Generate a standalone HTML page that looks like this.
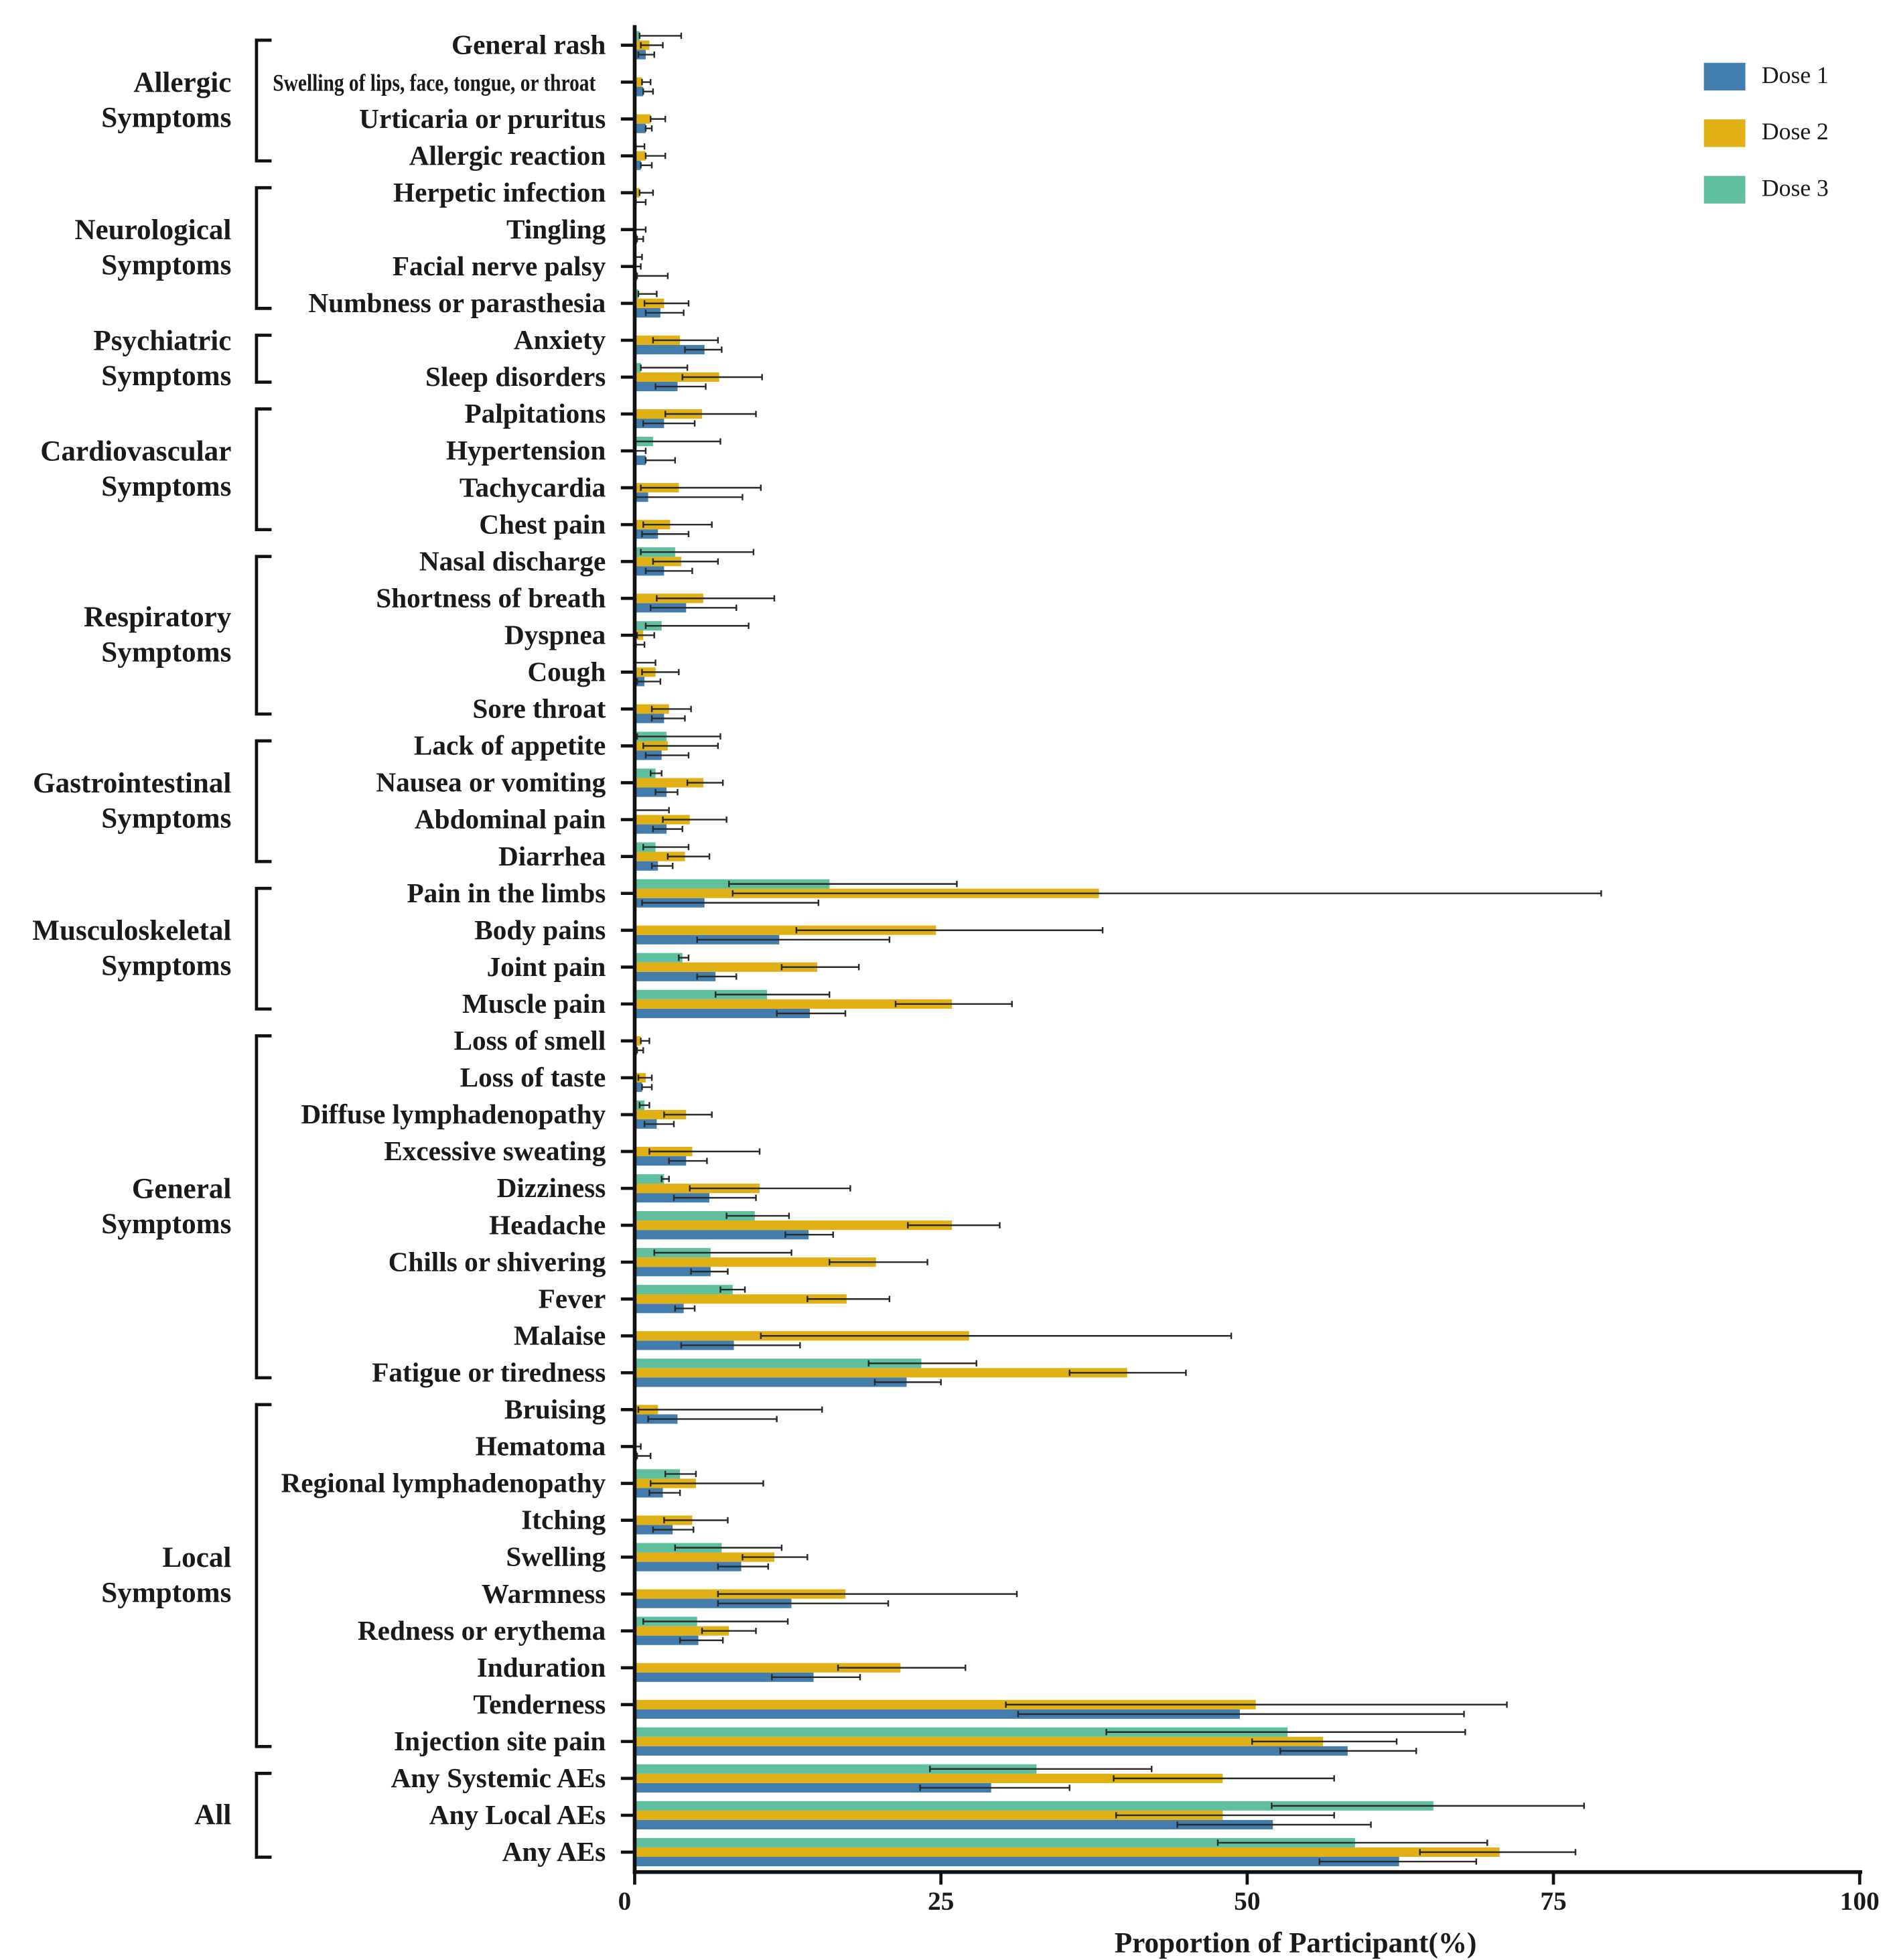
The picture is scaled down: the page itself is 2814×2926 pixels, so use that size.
<!DOCTYPE html>
<html><head><meta charset="utf-8"><style>
html,body{margin:0;padding:0;background:#fff}
svg{display:block}
text{font-family:"Liberation Serif","DejaVu Serif",serif;fill:#1a1a1a}
</style></head><body>
<svg id="chart" width="2814" height="2926" viewBox="0 0 1500 1560" xmlns="http://www.w3.org/2000/svg"></svg>
<script>
const categories=["General rash","Swelling of lips, face, tongue, or throat","Urticaria or pruritus","Allergic reaction","Herpetic infection","Tingling","Facial nerve palsy","Numbness or parasthesia","Anxiety","Sleep disorders","Palpitations","Hypertension","Tachycardia","Chest pain","Nasal discharge","Shortness of breath","Dyspnea","Cough","Sore throat","Lack of appetite","Nausea or vomiting","Abdominal pain","Diarrhea","Pain in the limbs","Body pains","Joint pain","Muscle pain","Loss of smell","Loss of taste","Diffuse lymphadenopathy","Excessive sweating","Dizziness","Headache","Chills or shivering","Fever","Malaise","Fatigue or tiredness","Bruising","Hematoma","Regional lymphadenopathy","Itching","Swelling","Warmness","Redness or erythema","Induration","Tenderness","Injection site pain","Any Systemic AEs","Any Local AEs","Any AEs"];
const dose1=[0.9,0.7,0.9,0.5,0.1,0.2,0.2,2.1,5.7,3.5,2.4,0.9,1.1,1.9,2.4,4.2,0.1,0.8,2.4,2.2,2.6,2.6,1.9,5.7,11.8,6.6,14.3,0.2,0.6,1.8,4.2,6.1,14.2,6.2,4.0,8.1,22.2,3.5,0.2,2.3,3.1,8.7,12.8,5.2,14.6,49.4,58.2,29.1,52.1,62.4];
const dose1Lo=[0.3,0.7,0.9,0.5,0.1,0.2,0.2,0.9,4.1,1.7,0.7,0.9,0.1,0.6,0.9,1.3,0.1,0.2,1.4,0.9,1.7,1.5,1.4,0.6,5.1,5.1,11.6,0.2,0.6,0.8,2.8,3.2,12.3,4.6,3.3,3.8,19.6,1.1,0.2,1.2,1.5,6.8,6.8,3.7,11.2,31.3,52.7,23.3,44.3,55.9];
const dose1Hi=[1.6,1.5,1.4,1.4,0.9,0.7,2.7,4.0,7.1,5.8,4.9,3.3,8.8,4.4,4.7,8.3,0.8,2.1,4.1,4.4,3.5,3.9,3.1,15.0,20.8,8.3,17.2,0.7,1.4,3.2,5.9,9.9,16.2,7.6,4.9,13.5,25.0,11.6,1.3,3.7,4.8,10.9,20.7,7.2,18.4,67.7,63.8,35.5,60.1,68.7];
const dose2=[1.2,0.6,1.3,0.9,0.4,0,0,2.4,3.7,6.9,5.5,0,3.6,2.9,3.8,5.6,0.7,1.7,2.8,2.7,5.6,4.5,4.1,37.9,24.6,14.9,25.9,0.5,0.9,4.2,4.7,10.2,25.9,19.7,17.3,27.3,40.2,1.9,0,5.0,4.7,11.4,17.2,7.7,21.7,50.7,56.2,48.0,48.0,70.6];
const dose2Lo=[0.5,0.6,1.3,0.9,0.4,0,0,0.8,1.5,3.9,2.5,0,0.5,0.7,1.5,1.8,0.2,0.6,1.4,0.7,4.3,2.3,2.7,8.0,13.2,12.0,21.3,0.5,0.3,2.4,1.2,4.5,22.3,15.9,14.1,10.3,35.5,0.3,0,1.3,2.4,8.8,6.8,5.5,16.6,30.3,50.4,39.1,39.3,64.1];
const dose2Hi=[2.3,1.3,2.5,2.5,1.5,0.9,0.5,4.4,6.8,10.4,9.9,0.9,10.3,6.3,6.8,11.4,1.6,3.6,4.6,6.8,7.2,7.5,6.1,78.9,38.2,18.3,30.8,1.2,1.4,6.3,10.2,17.6,29.8,23.9,20.8,48.7,45.0,15.3,0.5,10.5,7.6,14.1,31.2,9.9,27.0,71.2,62.2,57.1,57.1,76.8];
const dose3=[0.4,0,0,0.1,0,0,0,0.3,0,0.5,0,1.5,0,0,3.3,0,2.2,0,0,2.6,1.7,0,1.7,15.9,0,3.9,10.8,0,0,0.8,0,2.4,9.8,6.2,8.0,0,23.4,0,0,3.7,0,7.1,0,5.1,0,0,53.3,32.8,65.2,58.8];
const dose3Lo=[0.4,0,0,0.1,0,0,0,0.3,0,0.5,0,0,0,0,0.5,0,0.9,0,0,0.2,1.3,0,0.7,7.7,0,3.6,6.6,0,0,0.4,0,2.2,7.5,1.6,7.0,0,19.1,0,0,2.5,0,3.3,0,0.7,0,0,38.5,24.1,52.0,47.6];
const dose3Hi=[3.8,0,0,0.8,0,0,0.6,1.8,0,4.3,0,7.0,0,0,9.7,0,9.3,1.7,0,7.0,2.2,2.8,4.4,26.3,0,4.4,15.9,0,0,1.2,0,2.8,12.6,12.8,9.0,0,27.9,0,0,5.0,0,12.0,0,12.5,0,0,67.8,42.2,77.5,69.6];
const xTicks=[0,25,50,75,100];
const groupNames=[["Allergic","Symptoms"],["Neurological","Symptoms"],["Psychiatric","Symptoms"],["Cardiovascular","Symptoms"],["Respiratory","Symptoms"],["Gastrointestinal","Symptoms"],["Musculoskeletal","Symptoms"],["General","Symptoms"],["Local","Symptoms"],["All"]];
const groupStart=[0,4,8,10,14,19,23,27,37,47];
const groupEnd=[3,7,9,13,18,22,26,36,46,49];
const seriesNames=["Dose 1","Dose 2","Dose 3"];

const NS="http://www.w3.org/2000/svg";
const svg=document.getElementById('chart');
const X0=505,X1=1480,Y0=36,STEP=29.35,BH=7.5,AXY=1490;
function xs(v){return X0+(X1-X0)*v/100;}
function ys(i){return Y0+i*STEP;}
function mk(tag,attrs,parent){const e=document.createElementNS(NS,tag);for(const k in attrs)e.setAttribute(k,attrs[k]);(parent||svg).appendChild(e);return e;}
const colors=["#437dae","#e0b015","#5fbf9f"];
const vals=[dose1,dose2,dose3],los=[dose1Lo,dose2Lo,dose3Lo],his=[dose1Hi,dose2Hi,dose3Hi];
const offs=[BH,0,-BH];

const gBars=mk('g',{});


categories.forEach((c,i)=>{
  const y=ys(i);
  for(let s=0;s<3;s++){
    const v=vals[s][i];
    const cy=y+offs[s];
    if(v>0){
      const r=mk('rect',{x:xs(0),y:cy-BH/2,width:xs(v)-xs(0),height:BH,fill:colors[s]},gBars);
      
      
    }
    const lo=los[s][i],hi=his[s][i];
    if(hi>lo){
      const g=mk('g',{stroke:'#2a2a2a','stroke-width':1.3},gBars);
      
      
      mk('line',{x1:xs(lo),x2:xs(hi),y1:cy,y2:cy},g);
      mk('line',{x1:xs(lo),x2:xs(lo),y1:cy-2.5,y2:cy+2.5},g);
      mk('line',{x1:xs(hi),x2:xs(hi),y1:cy-2.5,y2:cy+2.5},g);
    }
  }
  const tk=mk('line',{x1:494,x2:505,y1:y,y2:y,stroke:'#111','stroke-width':2.5});
  
  
  const t=mk('text',{x:482,y:y+7,'text-anchor':'end','font-size':22,'font-weight':'bold'});
  t.textContent=c;
  if(i===1){t.setAttribute('x',474);t.setAttribute('font-size',19);t.setAttribute('textLength',257);t.setAttribute('lengthAdjust','spacingAndGlyphs');}
  
  
});

const ax=mk('line',{x1:X0,x2:X0,y1:20,y2:AXY+1.5,stroke:'#111','stroke-width':3});


const axx=mk('line',{x1:X0-1.5,x2:X1+2,y1:AXY,y2:AXY,stroke:'#111','stroke-width':3});


xTicks.forEach(v=>{
  const l=mk('line',{x1:xs(v),x2:xs(v),y1:AXY,y2:AXY+10,stroke:'#111','stroke-width':2.5});
  
  
  const t=mk('text',{x:xs(v)-(v===0?8:0),y:AXY+30,'text-anchor':'middle','font-size':21,'font-weight':'bold'});
  t.textContent=v;
  
  
});
const xt=mk('text',{x:1031,y:1554,'text-anchor':'middle','font-size':23,'font-weight':'bold'});
xt.textContent="Proportion of Participant(%)";



groupNames.forEach((lines,k)=>{
  const ya=ys(groupStart[k])-4,yb=ys(groupEnd[k])+4;
  const p=mk('path',{d:`M216 ${ya} H204 V${yb} H216`,fill:'none',stroke:'#111','stroke-width':2.5});
  
  
  const mid=(ya+yb)/2;
  const t=mk('text',{x:184,y:mid-(lines.length-1)*14+7,'text-anchor':'end','font-size':23,'font-weight':'bold'});
  
  
  lines.forEach((ln,j)=>{const ts=mk('tspan',{x:184,dy:j===0?0:28},t);ts.textContent=ln;});
});

seriesNames.forEach((n,s)=>{
  const y=50+s*45;
  const r=mk('rect',{x:1356,y:y,width:33,height:22,fill:colors[s]});
  
  
  const t=mk('text',{x:1402,y:y+16,'font-size':19});
  t.textContent=n;
  
  
});
</script>
</body></html>
